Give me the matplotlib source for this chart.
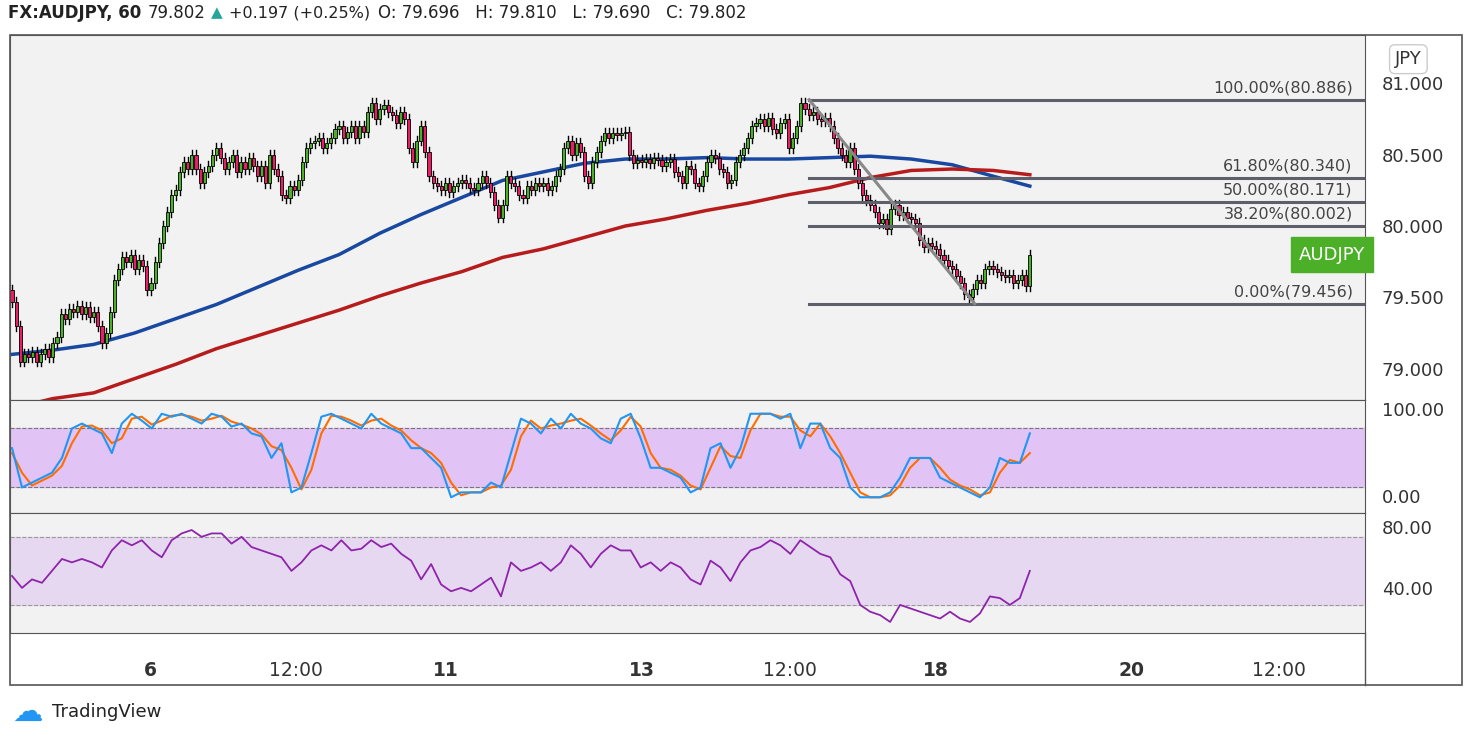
import numpy as np
import matplotlib.pyplot as plt
from matplotlib.patches import Rectangle

# hourly closes, AUDJPY
closes = [
    79.47, 79.30, 79.05, 79.10, 79.08, 79.12, 79.05, 79.10, 79.14, 79.08,
    79.18, 79.22, 79.38, 79.35, 79.42, 79.40, 79.44, 79.38, 79.43, 79.36,
    79.40, 79.30, 79.18, 79.25, 79.40, 79.62, 79.70, 79.78, 79.75, 79.80,
    79.70, 79.76, 79.72, 79.55, 79.60, 79.75, 79.88, 80.00, 80.10, 80.22,
    80.25, 80.38, 80.45, 80.40, 80.50, 80.40, 80.30, 80.38, 80.42, 80.50,
    80.55, 80.48, 80.40, 80.45, 80.50, 80.38, 80.45, 80.40, 80.48, 80.42,
    80.35, 80.42, 80.30, 80.50, 80.40, 80.35, 80.22, 80.20, 80.28, 80.25,
    80.32, 80.45, 80.55, 80.58, 80.60, 80.62, 80.55, 80.58, 80.62, 80.68,
    80.70, 80.62, 80.66, 80.70, 80.62, 80.70, 80.66, 80.80, 80.86, 80.75,
    80.82, 80.85, 80.80, 80.78, 80.72, 80.80, 80.75, 80.55, 80.45, 80.60,
    80.70, 80.52, 80.35, 80.30, 80.28, 80.25, 80.30, 80.24, 80.28, 80.30,
    80.32, 80.30, 80.27, 80.25, 80.30, 80.35, 80.30, 80.24, 80.15, 80.06,
    80.15, 80.35, 80.30, 80.28, 80.22, 80.20, 80.28, 80.25, 80.30, 80.28,
    80.30, 80.25, 80.28, 80.35, 80.40, 80.55, 80.60, 80.50, 80.58, 80.52,
    80.35, 80.30, 80.45, 80.52, 80.60, 80.65, 80.62, 80.65, 80.64, 80.65,
    80.66, 80.50, 80.44, 80.46, 80.45, 80.47, 80.44, 80.48, 80.46, 80.42,
    80.45, 80.47, 80.38, 80.35, 80.30, 80.42, 80.40, 80.30, 80.28, 80.35,
    80.45, 80.50, 80.48, 80.40, 80.38, 80.30, 80.32, 80.45, 80.50, 80.55,
    80.62, 80.70, 80.72, 80.75, 80.70, 80.76, 80.68, 80.65, 80.72, 80.75,
    80.55, 80.62, 80.70, 80.86, 80.82, 80.78, 80.80, 80.75, 80.74, 80.76,
    80.70, 80.62, 80.55, 80.50, 80.45, 80.55, 80.40, 80.30, 80.22, 80.18,
    80.15, 80.10, 80.02, 80.05, 79.98, 80.12, 80.15, 80.08, 80.10, 80.06,
    80.05, 80.02, 79.90, 79.85, 79.88, 79.86, 79.84, 79.80, 79.76, 79.72,
    79.70, 79.65, 79.60, 79.52, 79.50, 79.56, 79.62, 79.60, 79.70, 79.72,
    79.70, 79.68, 79.66, 79.64, 79.66, 79.60, 79.62, 79.66, 79.58, 79.80,
]
first_open = 79.55

# moving averages sampled every 10 bars (+ last bar)
ma_blue = [79.10, 79.13, 79.17, 79.25, 79.35, 79.45, 79.57, 79.69, 79.80, 79.95,
           80.08, 80.20, 80.32, 80.38, 80.44, 80.47, 80.47, 80.48, 80.47, 80.47,
           80.48, 80.49, 80.47, 80.43, 80.35, 80.28]
ma_red = [78.72, 78.79, 78.83, 78.93, 79.03, 79.14, 79.23, 79.32, 79.41, 79.51,
          79.60, 79.68, 79.78, 79.84, 79.92, 80.00, 80.05, 80.11, 80.16, 80.22,
          80.27, 80.34, 80.39, 80.40, 80.39, 80.36]

stoch_k = [60, 20, 25, 30, 35, 50, 80, 85, 80, 75, 55, 85, 95, 88, 80, 95, 92, 95, 90, 85,
           95, 92, 82, 85, 75, 72, 50, 65, 15, 20, 55, 92, 95, 90, 85, 80, 95, 85, 80, 75,
           60, 60, 50, 40, 10, 15, 15, 15, 25, 20, 55, 90, 85, 75, 90, 80, 95, 85, 80, 70,
           65, 90, 95, 70, 40, 40, 35, 30, 15, 20, 60, 65, 40, 60, 95, 95, 95, 90, 95, 60,
           85, 85, 60, 50, 20, 10, 10, 10, 15, 30, 50, 50, 50, 30, 25, 20, 15, 10, 20, 50,
           45, 45, 75]
stoch_d = [55, 35, 22, 27, 32, 42, 65, 82, 83, 78, 65, 70, 90, 92, 84, 88, 93, 94, 92, 88,
           90, 93, 87, 84, 80, 74, 62, 58, 40, 18, 38, 75, 93, 92, 88, 83, 88, 90, 83, 78,
           68, 60, 55, 45, 25, 12, 15, 15, 20, 22, 38, 72, 88, 80, 83, 85, 88, 90, 83, 75,
           68, 78, 92, 82, 55, 40, 38, 32, 22, 18, 40, 62, 52, 50, 78, 95, 95, 92, 92, 78,
           72, 85, 72, 55, 35, 15, 10, 10, 12, 22, 40, 50, 50, 40, 28, 22, 18, 12, 15, 35,
           48, 45, 55]
rsi = [47, 40, 45, 43, 50, 57, 55, 57, 55, 52, 62, 68, 65, 68, 62, 58, 68, 72, 74, 70,
       72, 72, 66, 70, 64, 62, 60, 58, 50, 55, 62, 65, 62, 68, 62, 63, 68, 64, 66, 60,
       56, 45, 54, 42, 38, 40, 38, 42, 46, 35, 55, 50, 52, 55, 50, 55, 65, 60, 52, 60,
       65, 62, 62, 52, 55, 50, 55, 52, 45, 42, 56, 52, 44, 55, 62, 64, 68, 65, 60, 68,
       64, 60, 58, 48, 44, 30, 26, 24, 20, 30, 28, 26, 24, 22, 26, 22, 20, 25, 35, 34,
       30, 34, 50]

fib_levels = [80.886, 80.340, 80.171, 80.002, 79.456]
fib_labels = ["100.00%(80.886)", "61.80%(80.340)", "50.00%(80.171)", "38.20%(80.002)", "0.00%(79.456)"]
fib_start, fib_low_bar = 195, 235.5

tick_pos = [33.8, 69.4, 106.1, 154.2, 190.2, 226.0, 273.8, 310.0]
tick_lbl = ["6", "12:00", "11", "13", "12:00", "18", "20", "12:00"]

BG = "#f2f2f2"
UP, DN = "#4caf28", "#e91e63"
W, H = 1471, 739
fig = plt.figure(figsize=(14.71, 7.39), dpi=100)

def mk(y0, y1):
    ax = fig.add_axes([10 / W, 1 - y1 / H, 1355 / W, (y1 - y0) / H])
    ax.set_facecolor(BG)
    ax.set_xlim(-0.5, 331)
    ax.yaxis.tick_right()
    ax.tick_params(axis="y", length=0, labelsize=13, colors="#333333", pad=12)
    ax.set_xticks([])
    for s in ax.spines.values():
        s.set_color("#555555")
    return ax

ax1 = mk(35, 400)
ax2 = mk(400, 513)
ax3 = mk(513, 633)

# candles
opens = [first_open] + closes[:-1]
for i, (o, c) in enumerate(zip(opens, closes)):
    col = UP if c >= o else DN
    hi, lo = max(o, c) + 0.035, min(o, c) - 0.035
    ax1.plot([i, i], [lo, hi], color="black", lw=1, zorder=3)
    ax1.add_patch(Rectangle((i - 0.38, min(o, c)), 0.76, max(abs(c - o), 0.008),
                            facecolor=col, edgecolor="black", lw=0.6, zorder=4))

ma_x = list(range(0, 250, 10)) + [249]
ax1.plot(ma_x, ma_blue, color="#1848a0", lw=2.5, zorder=2)
ax1.plot(ma_x, ma_red, color="#b71c1c", lw=2.5, zorder=2)

for lv, lb in zip(fib_levels, fib_labels):
    ax1.plot([fib_start, 331], [lv, lv], color="#5d606b", lw=2.2, zorder=5)
    ax1.text(328, lv + 0.03, lb, ha="right", va="bottom", fontsize=11.5, color="#444444", zorder=6)
ax1.plot([fib_start, fib_low_bar], [fib_levels[0], fib_levels[-1]], color="#888888", lw=2.2, zorder=5)

ax1.set_ylim(78.78, 81.34)
ax1.set_yticks([79.0, 79.5, 80.0, 80.5, 81.0])
ax1.set_yticklabels(["79.000", "79.500", "80.000", "80.500", "81.000"])
ax1.text(1.032, 0.92, "JPY", transform=ax1.transAxes, fontsize=13, color="#333333", ha="center",
         bbox=dict(boxstyle="round,pad=0.3", fc="white", ec="#cccccc"))
ax1.text(1.0, closes[-1], "AUDJPY", transform=ax1.get_yaxis_transform(), ha="right", va="center",
         fontsize=13, color="white", zorder=10,
         bbox=dict(boxstyle="square,pad=0.45", fc="#4caf28", ec="#4caf28"))

# stochastic
sx_k = np.linspace(0, 249, len(stoch_k))
sx_d = np.linspace(0, 249, len(stoch_d))
ax2.axhspan(20, 80, color="#e1c4f5", zorder=0)
for lv in (20, 80):
    ax2.axhline(lv, color="#777777", ls="--", lw=0.8)
ax2.plot(sx_d, stoch_d, color="#ff6d00", lw=1.5)
ax2.plot(sx_k, stoch_k, color="#2196f3", lw=1.5)
ax2.set_ylim(-6, 109)
ax2.set_yticks([0, 100])
ax2.set_yticklabels(["0.00", "100.00"])
ax2.get_yticklabels()[0].set_va("bottom")

# rsi
rx = np.linspace(0, 249, len(rsi))
ax3.axhspan(30, 70, color="#e6d8f0", zorder=0)
for lv in (30, 70):
    ax3.axhline(lv, color="#999999", ls="--", lw=0.8)
ax3.plot(rx, rsi, color="#8e24aa", lw=1.3)
ax3.set_ylim(13.5, 84)
ax3.set_yticks([40, 80])
ax3.set_yticklabels(["40.00", "80.00"])
ax3.get_yticklabels()[1].set_va("top")
ax3.set_xticks(tick_pos)
ax3.set_xticklabels(tick_lbl, fontsize=13.5, color="#333333")
ax3.tick_params(axis="x", length=0, pad=20)
for t, lb in zip(ax3.get_xticklabels(), tick_lbl):
    if ":" not in lb:
        t.set_fontweight("bold")

# outer frame
fig.add_artist(Rectangle((10 / W, 1 - 685 / H), 1452 / W, 650 / H, transform=fig.transFigure,
                         fill=False, ec="#555555", lw=1.2))
fig.add_artist(plt.Line2D([1365 / W, 1365 / W], [1 - 685 / H, 1 - 633 / H], color="#555555", lw=1))

hy = 1 - 13 / H
fig.text(8 / W, hy, "FX:AUDJPY, 60", fontsize=12, fontweight="bold", va="center", color="#222222")
fig.text(148 / W, hy, "79.802", fontsize=12, va="center", color="#222222")
fig.text(211 / W, hy, "▲", fontsize=11, va="center", color="#26a69a")
fig.text(229 / W, hy, "+0.197 (+0.25%)", fontsize=11.5, va="center", color="#222222")
fig.text(378 / W, hy, "O: 79.696   H: 79.810   L: 79.690   C: 79.802", fontsize=12, va="center", color="#222222")
fig.text(52 / W, 1 - 712 / H, "TradingView", fontsize=13, va="center", color="#222222")
fig.text(12 / W, 1 - 712 / H, "☁", fontsize=22, va="center", color="#2196f3")

fig.savefig("out.png", dpi=100, facecolor="white")
